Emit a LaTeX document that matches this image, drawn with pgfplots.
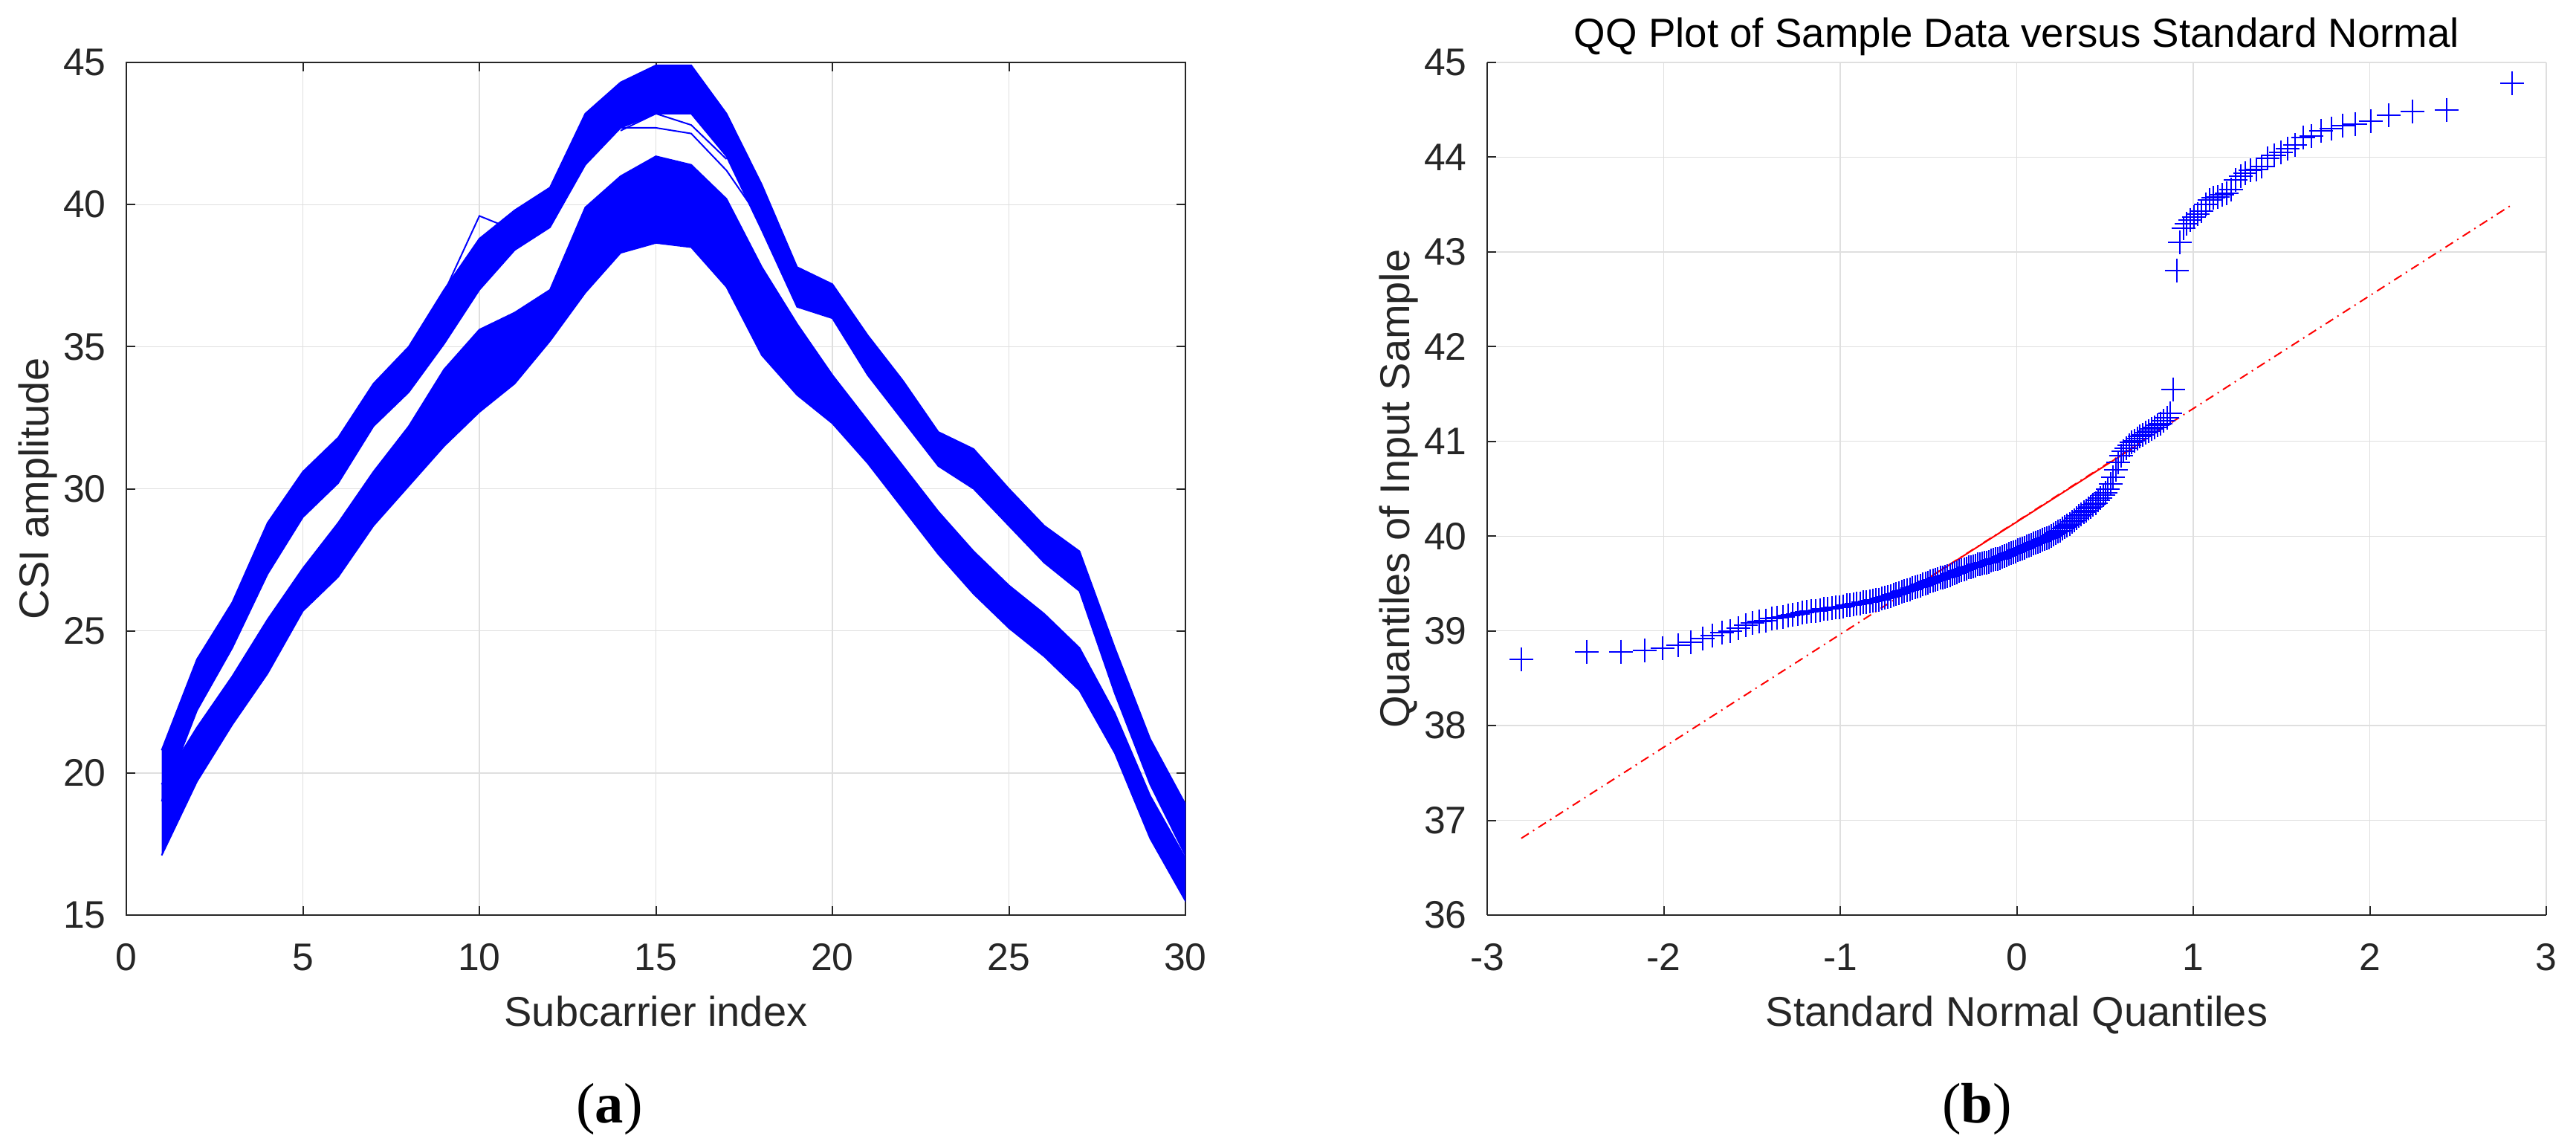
\documentclass[border=0pt]{standalone}
\usepackage{fontspec}
\setmainfont{Liberation Sans}
\newfontfamily\capfont{Liberation Serif}
\usepackage{pgfplots}
\pgfplotsset{compat=1.18}
\definecolor{axgray}{RGB}{38,38,38}
\definecolor{gridgray}{RGB}{223,223,223}

% 1 px of the reference = 0.15pt
\pgfplotsset{
  matlab/.style={
    scale only axis, width=213.75pt, height=172.05pt,
    axis line style={axgray, line width=0.3pt},
    tick style={axgray, line width=0.3pt},
    major tick length=1.8pt,
    tick align=inside,
    grid=major,
    major grid style={gridgray, line width=0.2pt},
    /pgf/number format/assume math mode=true,
    ticklabel style={font=\fontsize{7.75}{9}\selectfont, text=axgray, inner sep=0pt},
    xticklabel style={anchor=base, yshift=-11.1pt},
    yticklabel style={anchor=east, xshift=-3.9pt},
    every axis x label/.style={at={(axis description cs:0.5,0)}, anchor=base,
      yshift=-22.35pt, font=\fontsize{8.4}{10}\selectfont, text=axgray, inner sep=0pt},
    every axis y label/.style={at={(axis description cs:0,0.5)}, xshift=-15.75pt,
      rotate=90, anchor=base, font=\fontsize{8.4}{10}\selectfont, text=axgray, inner sep=0pt},
    every axis title/.style={at={(axis description cs:0.5,1)}, anchor=base,
      yshift=3.15pt, font=\fontsize{8.2}{10}\selectfont, inner sep=0pt},
  }
}

\begin{document}
\begin{tikzpicture}
\useasboundingbox (0,0) rectangle (519.9pt,231.3pt);

% ---------- (a) CSI amplitude ----------
\begin{axis}[matlab, at={(25.5pt,46.65pt)}, anchor=south west,
  xmin=0, xmax=30, ymin=15, ymax=45,
  xtick={0,5,...,30}, ytick={15,20,...,45},
  xlabel={Subcarrier index}, ylabel={CSI amplitude}]
% upper group of curves: top edge then bottom edge
\addplot[draw=blue, fill=blue, line width=0.3pt] coordinates {
  (1,20.8)(2,24.0)(3,26.0)(4,28.8)(5,30.6)(6,31.8)(7,33.7)(8,35.0)(9,37.0)(10,38.8)
  (11,39.8)(12,40.6)(13,43.2)(14,44.3)(15,44.9)(16,44.9)(17,43.2)(18,40.7)(19,37.8)(20,37.2)
  (21,35.4)(22,33.8)(23,32.0)(24,31.4)(25,30.0)(26,28.7)(27,27.8)(28,24.4)(29,21.2)(30,18.9)
  (30,17.1)(29,19.6)(28,22.8)(27,26.4)(26,27.4)(25,28.7)(24,30.0)(23,30.8)(22,32.4)(21,34.0)
  (20,36.0)(19,36.4)(18,39.1)(17,41.7)(16,43.2)(15,43.2)(14,42.7)(13,41.4)(12,39.2)(11,38.4)
  (10,37.0)(9,35.1)(8,33.4)(7,32.2)(6,30.2)(5,29.0)(4,27.0)(3,24.4)(2,22.2)(1,19.0)
};
% lower group of curves
\addplot[draw=blue, fill=blue, line width=0.3pt] coordinates {
  (1,19.6)(2,21.6)(3,23.4)(4,25.4)(5,27.2)(6,28.8)(7,30.6)(8,32.2)(9,34.2)(10,35.6)
  (11,36.2)(12,37.0)(13,39.9)(14,41.0)(15,41.7)(16,41.4)(17,40.2)(18,37.8)(19,35.8)(20,34.0)
  (21,32.4)(22,30.8)(23,29.2)(24,27.8)(25,26.6)(26,25.6)(27,24.4)(28,22.1)(29,19.2)(30,17.0)
  (30,15.5)(29,17.7)(28,20.7)(27,22.9)(26,24.1)(25,25.1)(24,26.3)(23,27.7)(22,29.3)(21,30.9)
  (20,32.3)(19,33.3)(18,34.7)(17,37.1)(16,38.5)(15,38.65)(14,38.3)(13,36.9)(12,35.2)(11,33.7)
  (10,32.7)(9,31.5)(8,30.1)(7,28.7)(6,26.9)(5,25.7)(4,23.5)(3,21.7)(2,19.7)(1,17.1)
};
% single curves that leave the bands
\addplot[blue, line width=0.3pt] coordinates {(9,36.9)(10,39.6)(11,39.1)(12,40.2)};
\addplot[blue, line width=0.3pt] coordinates {(13,42.0)(14,42.7)(15,42.7)(16,42.5)(17,41.2)(18,39.4)};
\addplot[blue, line width=0.3pt] coordinates {(14,42.6)(15,43.2)(16,42.8)(17,41.6)};
\end{axis}

% ---------- (b) QQ plot ----------
\begin{axis}[matlab, at={(300.15pt,46.65pt)}, anchor=south west,
  xmin=-3, xmax=3, ymin=36, ymax=45,
  xtick={-3,...,3}, ytick={36,...,45},
  axis x line*=bottom, axis y line*=left,
  xlabel={Standard Normal Quantiles}, ylabel={Quantiles of Input Sample},
  title={QQ Plot of Sample Data versus Standard Normal}]
\addplot[only marks, mark=+, mark size=2.4pt, blue, mark options={line width=0.3pt}] coordinates {
  (-2.807,38.70)(-2.435,38.78)(-2.242,38.78)(-2.109,38.79)(-2.005,38.82)(-1.919,38.85)(-1.845,38.88)(-1.781,38.92)(-1.723,38.95)(-1.670,38.98)
  (-1.622,39.00)(-1.577,39.03)(-1.534,39.06)(-1.495,39.08)(-1.458,39.10)(-1.423,39.11)(-1.389,39.13)(-1.356,39.14)(-1.326,39.15)(-1.296,39.16)
  (-1.268,39.17)(-1.240,39.18)(-1.214,39.19)(-1.188,39.20)(-1.163,39.21)(-1.139,39.21)(-1.115,39.22)(-1.092,39.23)(-1.070,39.23)(-1.047,39.24)
  (-1.026,39.25)(-1.005,39.25)(-0.985,39.26)(-0.964,39.27)(-0.944,39.27)(-0.925,39.28)(-0.906,39.29)(-0.887,39.29)(-0.869,39.30)(-0.851,39.30)
  (-0.833,39.31)(-0.815,39.32)(-0.798,39.33)(-0.781,39.33)(-0.764,39.34)(-0.747,39.35)(-0.731,39.36)(-0.715,39.37)(-0.698,39.38)(-0.683,39.39)
  (-0.667,39.40)(-0.651,39.41)(-0.636,39.42)(-0.621,39.43)(-0.605,39.44)(-0.590,39.45)(-0.576,39.46)(-0.561,39.47)(-0.546,39.48)(-0.532,39.49)
  (-0.517,39.50)(-0.503,39.51)(-0.489,39.52)(-0.475,39.53)(-0.461,39.54)(-0.447,39.55)(-0.433,39.56)(-0.419,39.56)(-0.406,39.57)(-0.392,39.58)
  (-0.379,39.59)(-0.365,39.60)(-0.352,39.61)(-0.339,39.62)(-0.326,39.63)(-0.312,39.64)(-0.299,39.65)(-0.286,39.66)(-0.273,39.67)(-0.260,39.67)
  (-0.247,39.68)(-0.234,39.69)(-0.221,39.70)(-0.208,39.70)(-0.195,39.71)(-0.183,39.72)(-0.170,39.72)(-0.157,39.73)(-0.145,39.74)(-0.132,39.75)
  (-0.119,39.76)(-0.107,39.76)(-0.094,39.77)(-0.082,39.78)(-0.069,39.79)(-0.056,39.80)(-0.044,39.81)(-0.031,39.82)(-0.019,39.83)(-0.006,39.84)
  (0.006,39.85)(0.019,39.86)(0.031,39.87)(0.044,39.88)(0.056,39.89)(0.069,39.90)(0.082,39.91)(0.094,39.92)(0.107,39.93)(0.119,39.94)
  (0.132,39.95)(0.145,39.96)(0.157,39.97)(0.170,39.98)(0.183,39.99)(0.195,40.00)(0.208,40.02)(0.221,40.03)(0.234,40.05)(0.247,40.06)
  (0.260,40.08)(0.273,40.10)(0.286,40.11)(0.299,40.13)(0.312,40.15)(0.326,40.17)(0.339,40.19)(0.352,40.21)(0.365,40.23)(0.379,40.25)
  (0.392,40.27)(0.406,40.29)(0.419,40.31)(0.433,40.33)(0.447,40.35)(0.461,40.38)(0.475,40.40)(0.489,40.43)(0.503,40.46)(0.517,40.50)
  (0.532,40.55)(0.546,40.62)(0.561,40.70)(0.576,40.78)(0.590,40.85)(0.605,40.90)(0.621,40.93)(0.636,40.96)(0.651,40.99)(0.667,41.01)
  (0.683,41.03)(0.698,41.05)(0.715,41.07)(0.731,41.09)(0.747,41.11)(0.764,41.13)(0.781,41.15)(0.798,41.17)(0.815,41.19)(0.833,41.22)
  (0.851,41.25)(0.869,41.30)(0.887,41.55)(0.906,42.80)(0.925,43.10)(0.944,43.25)(0.964,43.30)(0.985,43.34)(1.005,43.37)(1.026,43.40)
  (1.047,43.43)(1.070,43.50)(1.092,43.55)(1.115,43.57)(1.139,43.58)(1.163,43.60)(1.188,43.62)(1.214,43.66)(1.240,43.76)(1.268,43.80)
  (1.296,43.83)(1.326,43.86)(1.356,43.87)(1.389,43.90)(1.423,43.99)(1.458,44.02)(1.495,44.05)(1.534,44.09)(1.577,44.13)(1.622,44.21)
  (1.670,44.22)(1.723,44.28)(1.781,44.30)(1.845,44.33)(1.919,44.35)(2.005,44.38)(2.109,44.44)(2.242,44.48)(2.435,44.50)(2.807,44.78)
};
% reference line: full range dash-dot, quartile part solid
\addplot[red, line width=0.3pt, dash pattern=on 1.8pt off 1pt on 0.3pt off 1pt] coordinates {(-2.807,36.81)(2.807,43.50)};
\addplot[red, line width=0.3pt] coordinates {(-0.674,39.35)(0.674,40.95)};
\end{axis}

\node[font=\fontsize{11.5}{13}\selectfont\capfont] at (123pt,7.5pt) {(\textbf{a})};
\node[font=\fontsize{11.5}{13}\selectfont\capfont] at (399pt,7.5pt) {(\textbf{b})};
\end{tikzpicture}
\end{document}
